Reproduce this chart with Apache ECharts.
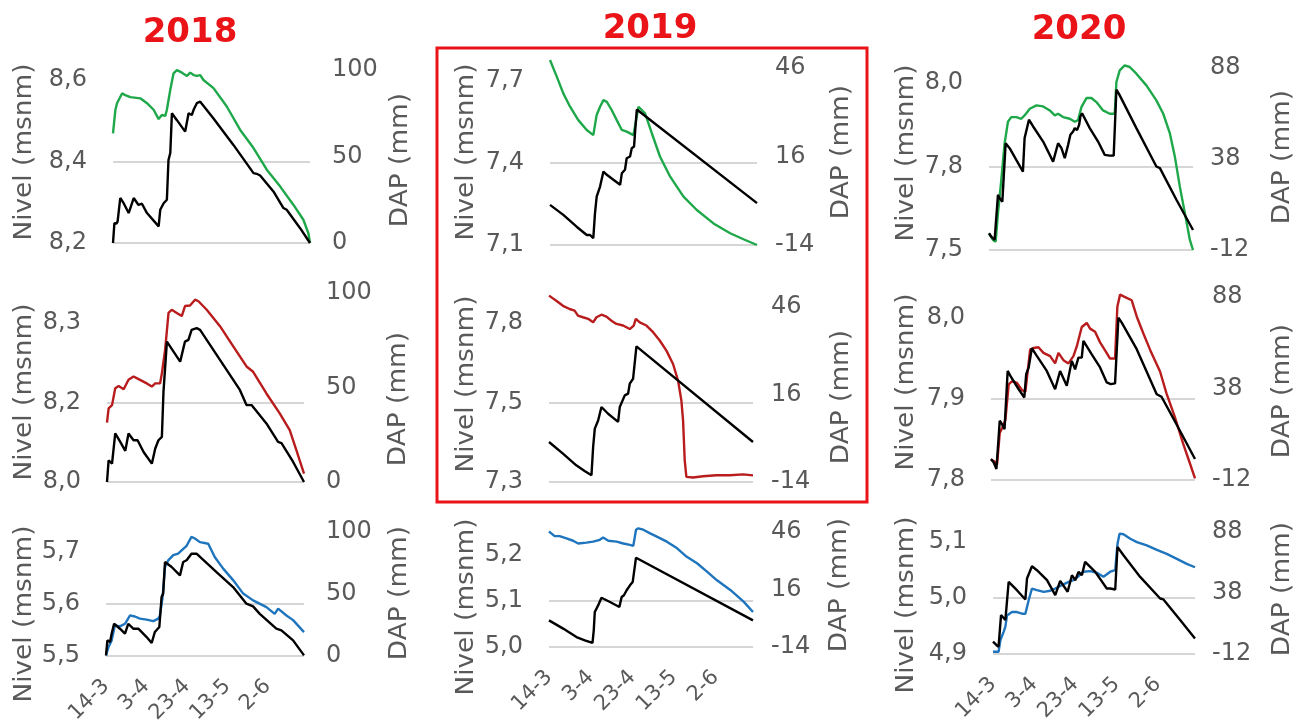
<!DOCTYPE html>
<html>
<head>
<meta charset="utf-8">
<title>Nivel y DAP 2018-2020</title>
<script src="https://cdn.jsdelivr.net/npm/echarts@6/dist/echarts.min.js"></script>
<style>
  html, body { margin: 0; padding: 0; background: #ffffff; }
  #chart { width: 1307px; height: 726px; }
</style>
</head>
<body>
<div id="chart"></div>
<script>
// x axis: days counted from 14 March; labels every 20 days
const dateTicks = ['14-3', '3-4', '23-4', '13-5', '2-6'];
const dateTickDays = [0, 20, 40, 60, 80];
const lastDay = 98;

// tick values of each axis
const nivelTicks2018_1 = [8.2, 8.4, 8.6];
const nivelTicks2018_2 = [8.0, 8.15, 8.3];
const nivelTicks2018_3 = [5.5, 5.6, 5.7];
const nivelTicks2019_1 = [7.1, 7.4, 7.7];
const nivelTicks2019_2 = [7.3, 7.55, 7.8];
const nivelTicks2019_3 = [5.0, 5.1, 5.2];
const nivelTicks2020_1 = [7.5, 7.75, 8.0];
const nivelTicks2020_2 = [7.8, 7.9, 8.0];
const nivelTicks2020_3 = [4.9, 5.0, 5.1];
const dapTicks2018 = [0, 50, 100];
const dapTicks2019 = [-14, 16, 46];
const dapTicks2020 = [-12, 38, 88];

// ---- 2018 ----
const nivel2018_1 = [[0,8.469],[1.2,8.527],[2,8.543],[4.5,8.567],[6.1,8.563],[8.6,8.558],[13.6,8.555],[16.9,8.543],[20.2,8.527],[22.7,8.504],[24.3,8.514],[26,8.512],[26.8,8.527],[28.5,8.576],[30.1,8.616],[31.8,8.624],[34.3,8.618],[36.8,8.61],[38.4,8.618],[40.1,8.612],[41.7,8.61],[43.4,8.612],[45,8.6],[50,8.58],[56.6,8.535],[63.2,8.478],[69.9,8.433],[76.5,8.38],[83.1,8.339],[89.7,8.294],[94.7,8.257],[97.2,8.224],[98,8.2]];
const dap2018_1 = [[0,0],[0.7,11.5],[1.7,11.2],[2.3,12.5],[3.6,26],[5.3,23],[7.8,17.3],[10.3,26],[12.7,22],[14.4,22.7],[16.9,17.3],[22.7,9.6],[23.5,19.2],[25.2,23],[26.8,25],[27.6,48],[28.5,52],[29.3,75],[31.8,71],[35.9,64.4],[37.6,75],[39.2,74],[40.1,77],[41.7,80.8],[43.4,81.7],[44.2,81.7],[50,72],[59.9,56.7],[69.9,40.4],[71.5,40],[73.2,39],[79.8,29.8],[84.8,20.2],[86.4,19.2],[93,8.7],[98,0]];

const nivel2018_2 = [[0,8.112],[0.8,8.139],[2.5,8.145],[4.1,8.177],[5.8,8.181],[8.3,8.175],[10.7,8.193],[13.2,8.199],[15.7,8.194],[19.8,8.186],[22.3,8.18],[24,8.186],[26.4,8.186],[27.3,8.205],[28.9,8.249],[30.6,8.319],[32.2,8.325],[34.7,8.319],[37.2,8.313],[38.8,8.332],[41.3,8.333],[43.8,8.344],[45.5,8.341],[49.6,8.325],[56.2,8.294],[62.8,8.256],[69.4,8.218],[72.7,8.208],[79.3,8.167],[86,8.129],[90.9,8.098],[94.2,8.06],[98,8.016]];
const dap2018_2 = [[0,0],[0.8,11.5],[2.5,9.7],[4.1,25.7],[6.6,21.2],[9.1,16.5],[10.7,25.7],[13.2,22.1],[15.2,22.1],[18.2,15.9],[22.3,9.7],[24,17.7],[25.6,22.1],[27.3,23.9],[28.1,47.8],[28.9,47],[29.8,74.3],[33.1,69],[36.4,63.7],[38.8,74.3],[40.5,75.2],[42.1,80.5],[44.6,81.4],[46.3,80.5],[56.2,64.6],[66.1,48.7],[69.4,40.7],[71.9,40.7],[79.3,31],[85.1,21.2],[86.8,20.6],[92.6,10.6],[98,0]];

const nivel2018_3 = [[0,5.501],[1.2,5.517],[2.8,5.53],[4.4,5.559],[6.9,5.557],[9.4,5.562],[11.9,5.578],[14.3,5.576],[16.8,5.572],[20.1,5.57],[23.4,5.567],[25.9,5.572],[26.7,5.578],[28,5.613],[29.2,5.671],[30.8,5.684],[33.3,5.694],[35.7,5.697],[37.4,5.703],[39.9,5.712],[42.3,5.729],[44,5.726],[46.5,5.719],[50.6,5.716],[53.9,5.69],[58,5.668],[62.9,5.646],[67.9,5.62],[72.8,5.607],[79.4,5.594],[83.5,5.581],[85.2,5.591],[89.3,5.578],[92.6,5.569],[98,5.546]];
const dap2018_3 = [[0,0.5],[0.7,12.6],[2,11.3],[2.8,18],[4,26],[6.9,22],[9.4,18],[11,26],[13.5,22],[16,22],[20.1,15.3],[22.6,10.5],[24.2,19.4],[26.4,23.4],[27.5,47.6],[28.3,50.3],[29.2,75.8],[32.5,71.8],[36.6,65],[38.2,75.8],[39.9,77.2],[42.3,82.5],[44.8,82.5],[54.7,67.7],[62.9,55.6],[69.5,42.2],[72.8,40],[76.1,34],[84.3,22],[86.8,20.7],[92.6,12.6],[98,0.5]];

// ---- 2019 ----
const nivel2019_1 = [[0,7.777],[3.2,7.716],[6.3,7.655],[9.5,7.606],[13.4,7.557],[17.4,7.521],[20.5,7.502],[22.1,7.576],[23.7,7.606],[25.3,7.63],[26.9,7.624],[29.2,7.594],[31.6,7.557],[34,7.521],[36.3,7.515],[39.5,7.502],[41.9,7.606],[42.7,7.612],[45,7.582],[48.2,7.509],[52.1,7.423],[56.9,7.35],[63.2,7.277],[69.5,7.228],[77.4,7.179],[85.3,7.143],[91.6,7.121],[98,7.1]];
const dap2019_1 = [[0,-0.4],[6.3,-3.8],[12.6,-7.8],[17.4,-10.6],[19,-10.6],[20.5,-11.7],[21.3,-3.2],[22.1,2.4],[23.7,5.8],[25.3,10.9],[26.9,9.8],[30,8.1],[33.2,6.4],[34,10.3],[35.5,11.5],[36.3,15.4],[37.9,16],[38.7,18.8],[39.8,19.4],[40.3,24.5],[41.1,31.9],[98,0.2]];

const nivel2019_2 = [[0,7.886],[3.5,7.87],[6.7,7.854],[9.9,7.844],[12.3,7.839],[13.9,7.823],[16.3,7.818],[18.8,7.813],[21.2,7.802],[22.8,7.818],[25.2,7.826],[27.6,7.82],[30,7.807],[32.4,7.797],[35.6,7.792],[38.8,7.781],[40.7,7.792],[41.7,7.813],[43.6,7.802],[46.8,7.792],[50,7.771],[53.2,7.745],[56.4,7.713],[59.6,7.671],[62,7.619],[63.6,7.556],[64.4,7.494],[65.2,7.368],[66,7.316],[69.2,7.314],[74,7.318],[80.4,7.321],[86.9,7.321],[93.3,7.324],[98,7.321]];
const dap2019_2 = [[0,-0.3],[6.7,-4.3],[13.1,-8.3],[17.1,-10.2],[20.4,-11.7],[21.2,-2],[22,4.3],[23.6,7.1],[25.2,11.7],[28.4,9.4],[33.2,6.6],[34,11.7],[34.8,12.3],[36.4,15.7],[37.2,15.2],[38,16.3],[38.8,19.7],[39.6,19.7],[40.4,21.4],[42,32.5],[98,-0.3]];

const nivel2019_3 = [[0,5.251],[1.1,5.247],[2.7,5.241],[5.1,5.241],[8.4,5.236],[11.6,5.231],[14,5.225],[18,5.227],[21.2,5.229],[24.4,5.233],[26,5.238],[28.5,5.231],[32.5,5.229],[35.7,5.225],[38.9,5.222],[40.5,5.22],[41.8,5.255],[42.9,5.258],[45.3,5.255],[48.6,5.247],[51.8,5.24],[56.6,5.229],[61.4,5.215],[66.2,5.196],[71.1,5.182],[75.9,5.164],[80.7,5.145],[87.1,5.124],[93.6,5.098],[98,5.076]];
const dap2019_3 = [[0,-0.1],[6.8,-4.4],[13.2,-8.8],[17.2,-10.5],[20.9,-11.9],[21.5,-5.3],[22,4.3],[23.6,7.7],[25.2,11.7],[29.3,9.5],[33.8,6.9],[34.9,12.1],[36,13],[37.3,15.6],[38.1,14.8],[38.9,18.2],[40.2,19.9],[40.8,20],[41.8,32.6],[98,-0.1]];

// ---- 2020 ----
const nivel2020_1 = [[0,7.55],[1.9,7.53],[3.2,7.525],[4.3,7.61],[5.9,7.709],[7.5,7.819],[9.1,7.884],[10.7,7.898],[13.1,7.898],[15.5,7.893],[17.1,7.903],[19.6,7.923],[22.8,7.933],[26,7.93],[29.2,7.918],[31.6,7.903],[33.2,7.908],[35.6,7.898],[38.8,7.893],[41.2,7.884],[42.8,7.889],[44.4,7.928],[46.8,7.955],[49.2,7.955],[51.6,7.943],[54.8,7.918],[58,7.908],[60.4,7.908],[61.2,8.003],[62.8,8.038],[65.2,8.053],[67.6,8.048],[70.8,8.028],[75.6,7.993],[80.4,7.948],[83.7,7.908],[86.9,7.849],[89.3,7.779],[91.7,7.689],[94.1,7.61],[96.5,7.53],[98,7.5]];
const dap2020_1 = [[0,-2.8],[1.1,-4.7],[2.7,-6.5],[4.3,18.3],[5.1,16.4],[6.4,14.6],[8,46.7],[9.9,44],[13.1,37.5],[16.3,31.1],[17.1,49.5],[17.9,50.4],[19.2,59.6],[21.2,55.9],[26,47.6],[30.8,36.6],[32.1,42.1],[33.2,46.7],[34.8,44],[36.4,38.5],[38,45.8],[39.1,51.3],[40.4,53.1],[41.2,55],[42.3,54],[43.3,56.8],[43.9,61.4],[44.7,63.2],[48.4,55],[52.4,47.6],[55.6,40.3],[58,39.9],[59.9,39.9],[61.2,76.1],[62.5,73.7],[70.8,55],[80.4,33.9],[82.1,33],[90.1,15.5],[98,-1]];

const nivel2020_2 = [[0,7.825],[1.6,7.823],[2.9,7.819],[4.2,7.858],[5.3,7.864],[6.9,7.874],[8.5,7.918],[10.1,7.922],[12.5,7.92],[14.9,7.911],[16.5,7.909],[18.8,7.961],[20.4,7.963],[22.8,7.964],[25.2,7.957],[28.4,7.953],[30.8,7.944],[32.4,7.957],[34.8,7.948],[37.2,7.944],[39.6,7.953],[41.2,7.965],[43.6,7.989],[46,7.994],[47.6,7.987],[50,7.983],[52.4,7.97],[54.8,7.96],[57.2,7.95],[59.6,7.95],[60.7,8.014],[62,8.029],[64.4,8.026],[67.6,8.022],[70,8.002],[73.2,7.981],[76.4,7.961],[81.2,7.934],[84.3,7.907],[88.3,7.878],[92.3,7.845],[95.5,7.821],[98,7.802]];
const dap2020_2 = [[0,-0.5],[1.3,-2.4],[2.6,-6],[4.2,20.4],[5.3,18.5],[6.5,15.8],[8,47.6],[9.3,44.9],[13.3,37.6],[16,33.1],[16.9,45.8],[18.1,49.5],[19.6,60],[22,55.8],[26.8,47.6],[30.8,37.6],[33.2,47.6],[36.4,39.5],[38.8,53.1],[40.4,48.5],[42,54.9],[43.6,54.9],[44.4,64],[48.4,56.7],[52.4,49.5],[55.6,41.3],[57.5,40.4],[59.6,40.8],[61.2,76.7],[62.8,74],[70,59.5],[79.6,34.9],[81.9,33.5],[89.1,18.5],[98,-0.5]];

const nivel2020_3 = [[0,4.904],[2.7,4.904],[3.6,4.925],[5.2,4.94],[6,4.949],[6.8,4.969],[9.2,4.975],[11.6,4.975],[14.1,4.972],[15.7,4.972],[17.3,4.996],[18.9,5.017],[21.3,5.014],[24.6,5.011],[27.8,5.013],[30.2,5.017],[33.4,5.023],[36.7,5.029],[39.1,5.032],[41.5,5.039],[43.9,5.047],[47.2,5.048],[50.4,5.045],[53.6,5.038],[56.9,5.047],[59.3,5.05],[60.4,5.097],[61.4,5.115],[63.3,5.114],[66.6,5.106],[69.8,5.1],[74.6,5.094],[79.5,5.086],[84.3,5.079],[89.2,5.07],[94,5.061],[98,5.055]];
const dap2020_3 = [[0,-1.9],[1.6,-4.6],[2.7,-6],[3.9,19.9],[4.8,18.5],[6,15.8],[7.6,47.1],[11.6,40.3],[15.7,32.7],[16.5,49.9],[17.3,51.2],[18.9,59.9],[21.3,56.7],[26.2,48.5],[30.2,36.2],[32.6,47.9],[36.2,39],[38.3,52.6],[39.9,48.5],[41.5,55.3],[43.1,52.6],[44.7,63.5],[49.6,55.3],[55.2,41.7],[56.9,41.7],[59.3,40.9],[60.4,75.7],[63.3,68.9],[71.4,51.2],[81.1,33.5],[82.7,32.7],[90.8,15.8],[98,0.8]];

// ---- styling ----
const GREEN = '#1fa84a';
const RED = '#b81c1c';
const BLUE = '#1f75bd';
const BLACK = '#000000';
const TEXT = '#595959';
const GRID = '#d6d6d6';
const TITLE_RED = '#ea1318';
const FONT = '"DejaVu Sans", "Liberation Sans", Arial, sans-serif';

// plot boxes [left, top, width, height], axis tops and title anchors for each panel
const panels = [
  { nivel: nivel2018_1, dap: dap2018_1, nTicks: nivelTicks2018_1, dTicks: dapTicks2018, color: GREEN, box: [113, 70, 197, 173], nMax: 8.6245, dMax: 100, nTitle: [25, 152], dTitle: [401, 160], rMargin: 22, dates: false },
  { nivel: nivel2018_2, dap: dap2018_2, nTicks: nivelTicks2018_2, dTicks: dapTicks2018, color: RED,   box: [107, 293, 197, 189], nMax: 8.3566, dMax: 100, nTitle: [25, 392], dTitle: [399, 399], rMargin: 22, dates: false },
  { nivel: nivel2018_3, dap: dap2018_3, nTicks: nivelTicks2018_3, dTicks: dapTicks2018, color: BLUE,  box: [106, 532, 198, 124], nMax: 5.7385, dMax: 100, nTitle: [25, 614], dTitle: [400, 593], rMargin: 22, dates: true },
  { nivel: nivel2019_1, dap: dap2019_1, nTicks: nivelTicks2019_1, dTicks: dapTicks2019, color: GREEN, box: [550, 60, 207, 185],  nMax: 7.777,  dMax: 48.7, nTitle: [467, 152], dTitle: [842, 152], rMargin: 18, dates: false },
  { nivel: nivel2019_2, dap: dap2019_2, nTicks: nivelTicks2019_2, dTicks: dapTicks2019, color: RED,   box: [549, 295, 204, 187], nMax: 7.888,  dMax: 50.1, nTitle: [467, 384], dTitle: [842, 397], rMargin: 18, dates: false },
  { nivel: nivel2019_3, dap: dap2019_3, nTicks: nivelTicks2019_3, dTicks: dapTicks2019, color: BLUE,  box: [549, 528, 204, 119], nMax: 5.2587, dMax: 48.1, nTitle: [467, 607], dTitle: [840, 585], rMargin: 18, dates: true },
  { nivel: nivel2020_1, dap: dap2020_1, nTicks: nivelTicks2020_1, dTicks: dapTicks2020, color: GREEN, box: [989, 65, 204, 185],  nMax: 8.054,  dMax: 89.7, nTitle: [907, 153], dTitle: [1283, 157], rMargin: 17, dates: false },
  { nivel: nivel2020_2, dap: dap2020_2, nTicks: nivelTicks2020_2, dTicks: dapTicks2020, color: RED,   box: [991, 293, 204, 187], nMax: 8.031,  dMax: 90.2, nTitle: [907, 382], dTitle: [1283, 391], rMargin: 17, dates: false },
  { nivel: nivel2020_3, dap: dap2020_3, nTicks: nivelTicks2020_3, dTicks: dapTicks2020, color: BLUE,  box: [993, 532, 202, 122], nMax: 5.118,  dMax: 88,   nTitle: [907, 605], dTitle: [1283, 589], rMargin: 17, dates: true }
];

const years = [
  { text: '2018', x: 190, y: 33 },
  { text: '2019', x: 650, y: 29 },
  { text: '2020', x: 1079, y: 30 }
];

const grids = [], xAxes = [], yAxes = [], series = [], graphics = [];

panels.forEach((p, i) => {
  grids.push({
    left: p.box[0], top: p.box[1], width: p.box[2], height: p.box[3],
    containLabel: false, outerBoundsMode: 'none'
  });

  xAxes.push({
    type: 'value', gridIndex: i, min: 0, max: lastDay,
    axisLine: { show: false }, axisTick: { show: false, customValues: dateTickDays },
    splitLine: { show: false },
    axisLabel: {
      show: p.dates, customValues: dateTickDays, rotate: 45, margin: 27,
      color: TEXT, fontSize: 21, fontFamily: FONT,
      formatter: v => dateTicks[dateTickDays.indexOf(Math.round(v))] || ''
    }
  });

  // left: water level (Nivel), with the horizontal grid lines
  yAxes.push({
    type: 'value', gridIndex: i, position: 'left',
    min: p.nTicks[0], max: p.nMax,
    axisLine: { show: false },
    axisTick: { show: false, customValues: p.nTicks },
    splitLine: { show: true, showMinLine: true, showMaxLine: false, lineStyle: { color: GRID, width: 2 } },
    axisLabel: {
      customValues: p.nTicks, margin: 26, color: TEXT, fontSize: 24, fontFamily: FONT,
      formatter: v => v.toFixed(1).replace('.', ',')
    }
  });

  // right: DAP
  yAxes.push({
    type: 'value', gridIndex: i, position: 'right',
    min: p.dTicks[0], max: p.dMax,
    axisLine: { show: false },
    axisTick: { show: false, customValues: p.dTicks },
    splitLine: { show: false },
    axisLabel: {
      customValues: p.dTicks, margin: p.rMargin, color: TEXT, fontSize: 24, fontFamily: FONT,
      formatter: v => String(Math.round(v))
    }
  });

  series.push({
    type: 'line', xAxisIndex: i, yAxisIndex: 2 * i, data: p.nivel, z: 2,
    showSymbol: false, symbol: 'none', clip: false, silent: true,
    lineStyle: { color: p.color, width: 2.4 }
  });
  series.push({
    type: 'line', xAxisIndex: i, yAxisIndex: 2 * i + 1, data: p.dap, z: 3,
    showSymbol: false, symbol: 'none', clip: false, silent: true,
    lineStyle: { color: BLACK, width: 2.4 }
  });

  [['Nivel (msnm)', p.nTitle], ['DAP (mm)', p.dTitle]].forEach(([txt, pos]) => {
    graphics.push({
      type: 'text', x: pos[0], y: pos[1], rotation: Math.PI / 2, scaleX: 1.1, silent: true,
      style: {
        text: txt, fontSize: 24, fontFamily: FONT, fill: TEXT,
        align: 'center', verticalAlign: 'middle',
        textAlign: 'center', textVerticalAlign: 'middle'
      }
    });
  });
});

years.forEach(t => {
  graphics.push({
    type: 'text', x: t.x, y: t.y, silent: true,
    style: {
      text: t.text, fontSize: 34, fontWeight: 'bold', fontFamily: FONT, fill: TITLE_RED,
      align: 'center', verticalAlign: 'middle',
      textAlign: 'center', textVerticalAlign: 'middle'
    }
  });
});

// frame around the 2019 level panels
graphics.push({
  type: 'rect', silent: true,
  shape: { x: 437, y: 48, width: 430, height: 454 },
  style: { fill: 'none', stroke: TITLE_RED, lineWidth: 3 }
});

const chart = echarts.init(document.getElementById('chart'), null, { renderer: 'canvas' });
chart.setOption({
  animation: false,
  backgroundColor: '#ffffff',
  grid: grids,
  xAxis: xAxes,
  yAxis: yAxes,
  series: series,
  graphic: { elements: graphics }
});
</script>
</body>
</html>
